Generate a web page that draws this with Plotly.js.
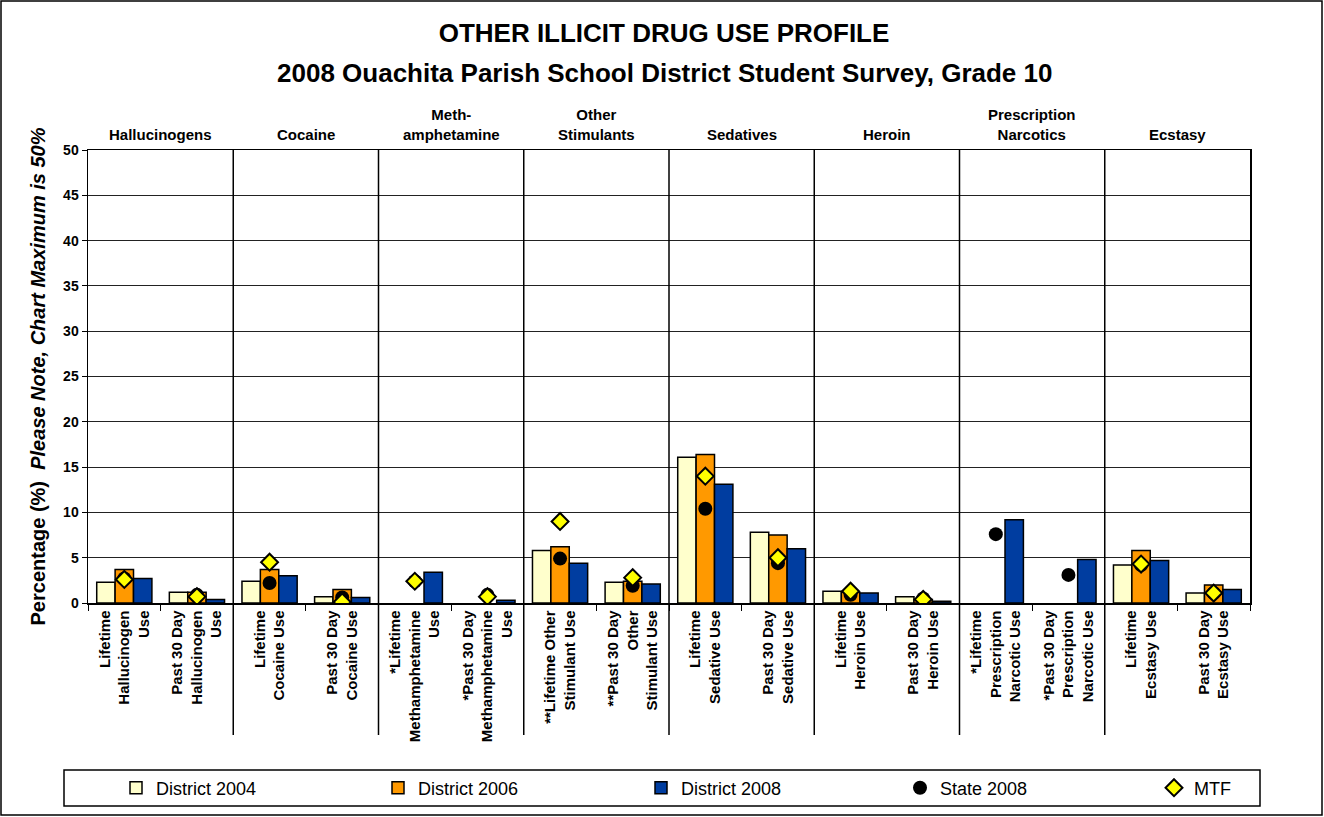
<!DOCTYPE html>
<html>
<head>
<meta charset="utf-8">
<script src="https://cdn.plot.ly/plotly-3.0.1.min.js"></script>
<style>
  html, body { margin: 0; padding: 0; background: #fff; }
  #chart { width: 1324px; height: 817px; }
</style>
</head>
<body>
<div id="chart"></div>
<script>
// ---- Data ----
var categories = [
  "Lifetime<br>Hallucinogen<br>Use",
  "Past 30 Day<br>Hallucinogen<br>Use",
  "Lifetime<br>Cocaine Use",
  "Past 30 Day<br>Cocaine Use",
  "*Lifetime<br>Methamphetamine<br>Use",
  "*Past 30 Day<br>Methamphetamine<br>Use",
  "**Lifetime Other<br>Stimulant Use",
  "**Past 30 Day<br>Other<br>Stimulant Use",
  "Lifetime<br>Sedative Use",
  "Past 30 Day<br>Sedative Use",
  "Lifetime<br>Heroin Use",
  "Past 30 Day<br>Heroin Use",
  "*Lifetime<br>Prescription<br>Narcotic Use",
  "*Past 30 Day<br>Prescription<br>Narcotic Use",
  "Lifetime<br>Ecstasy Use",
  "Past 30 Day<br>Ecstasy Use"
];
var groups = ["Hallucinogens", "Cocaine", "Meth-<br>amphetamine", "Other<br>Stimulants",
              "Sedatives", "Heroin", "Prescription<br>Narcotics", "Ecstasy"];

var district2004 = [2.3, 1.2, 2.4, 0.7, null, null, 5.8, 2.3, 16.1, 7.8, 1.3, 0.7, null, null, 4.2, 1.1];
var district2006 = [3.7, 1.2, 3.7, 1.5, null, null, 6.2, 2.4, 16.4, 7.5, 1.2, 0.4, null, null, 5.8, 2.0];
var district2008 = [2.7, 0.4, 3.0, 0.6, 3.4, 0.3, 4.4, 2.1, 13.1, 6.0, 1.1, 0.2, 9.2, 4.8, 4.7, 1.5];
var state2008    = [2.7, 0.9, 2.2, 0.6, 2.4, 0.9, 4.9, 1.9, 10.4, 4.4, 0.9, 0.5, 7.6, 3.1, 4.2, 1.1];
var mtf          = [2.6, 0.7, 4.5, 0.1, 2.4, 0.7, 9.0, 2.8, 14.0, 5.0, 1.3, 0.4, null, null, 4.3, 1.1];

var seriesNames = ["District 2004", "District 2006", "District 2008", "State 2008", "MTF"];

// ---- Traces ----
var font = "Liberation Sans, Arial, sans-serif";
var barLine = {color: "#000", width: 1.5};
var traces = [
  {type: "bar", name: seriesNames[0], x: categories, y: district2004, legend: "legend",
   marker: {color: "#FFFFCC", line: barLine}},
  {type: "bar", name: seriesNames[1], x: categories, y: district2006, legend: "legend2",
   marker: {color: "#FF9900", line: barLine}},
  {type: "bar", name: seriesNames[2], x: categories, y: district2008, legend: "legend3",
   marker: {color: "#003DA0", line: barLine}},
  {type: "scatter", mode: "markers", name: seriesNames[3], x: categories, y: state2008, legend: "legend4",
   marker: {symbol: "circle", color: "#000", size: 14}},
  {type: "scatter", mode: "markers", name: seriesNames[4], x: categories, y: mtf, legend: "legend5",
   marker: {symbol: "diamond", color: "#FFFF00", size: 13, line: {color: "#000", width: 2}}}
];

// ---- Geometry helpers ----
var pl = 88, pr = 1250, pt = 150, pb = 603, W = 1324, H = 817;
var pw = pr - pl, ph = pb - pt;
function px2x(p) { return (p - pl) / pw; }
function px2y(p) { return (pb - p) / ph; }

var shapes = [];
for (var g = 1; g < groups.length; g++) {
  shapes.push({type: "line", xref: "x", yref: "paper",
    x0: 2 * g - 0.5, x1: 2 * g - 0.5, y0: 1, y1: px2y(735),
    line: {color: "#000", width: 1.5}});
}
// legend box
shapes.push({type: "rect", xref: "paper", yref: "paper",
  x0: px2x(64), x1: px2x(1260), y0: px2y(770), y1: px2y(806),
  line: {color: "#000", width: 1.5}, fillcolor: "rgba(0,0,0,0)"});
// outer frame
shapes.push({type: "rect", xref: "paper", yref: "paper",
  x0: px2x(1), x1: px2x(1322), y0: px2y(815), y1: px2y(1),
  line: {color: "#000", width: 1.5}, fillcolor: "rgba(0,0,0,0)"});

var annotations = groups.map(function (gname, i) {
  return {xref: "x", yref: "paper", x: 2 * i + 0.5, y: px2y(145),
    yanchor: "bottom", xanchor: "center", showarrow: false, align: "center",
    text: "<b>" + gname + "</b>", font: {family: font, size: 15, color: "#000"}};
});
annotations.push({xref: "paper", yref: "paper", x: px2x(664), y: px2y(73),
  xanchor: "center", yanchor: "middle", showarrow: false,
  text: "<b>2008 Ouachita Parish School District Student Survey, Grade 10</b>",
  font: {family: font, size: 26, color: "#000"}});

function legendAt(xpx) {
  return {orientation: "h", x: px2x(xpx), xanchor: "left", y: px2y(788), yanchor: "middle",
    bgcolor: "rgba(0,0,0,0)", borderwidth: 0, itemwidth: 30,
    font: {family: font, size: 18, color: "#000"}};
}

var layout = {
  width: W, height: H,
  margin: {l: pl, r: W - pr, t: pt, b: H - pb, pad: 0, autoexpand: false},
  paper_bgcolor: "#fff", plot_bgcolor: "#fff",
  font: {family: font, color: "#000"},
  title: {text: "<b>OTHER ILLICIT DRUG USE PROFILE</b>",
    font: {family: font, size: 26, color: "#000"},
    x: 664 / W, xanchor: "center", y: 1 - 33 / H, yanchor: "middle"},
  barmode: "group", bargap: 0.24, bargroupgap: 0,
  showlegend: true,
  legend: legendAt(116),
  legend2: legendAt(378),
  legend3: legendAt(641),
  legend4: legendAt(900),
  legend5: legendAt(1154),
  xaxis: {type: "category", range: [-0.5, categories.length - 0.5],
    showgrid: false, showline: true, linecolor: "#000", linewidth: 1.5,
    mirror: true, ticks: "outside", tickson: "boundaries", ticklen: 6, tickcolor: "#000",
    tickangle: -90, tickfont: {family: font, size: 15, color: "#000"},
    tickprefix: "<b>", ticksuffix: "</b>",
    fixedrange: true, automargin: false},
  yaxis: {range: [0, 50], dtick: 5, showgrid: true, gridcolor: "#222", gridwidth: 1,
    showline: true, linecolor: "#000", linewidth: 1.5, mirror: true, zeroline: false,
    ticks: "outside", ticklen: 5, tickcolor: "#000",
    tickfont: {family: font, size: 14, color: "#000"}, tickprefix: "<b>", ticksuffix: "</b>",
    title: {text: "<b>Percentage (%)  <i>Please Note, Chart Maximum is 50%</i></b>",
      font: {family: font, size: 20, color: "#000"}, standoff: 12},
    fixedrange: true, automargin: false},
  shapes: shapes,
  annotations: annotations
};

Plotly.newPlot("chart", traces, layout, {displayModeBar: false, staticPlot: true});
</script>
</body>
</html>
